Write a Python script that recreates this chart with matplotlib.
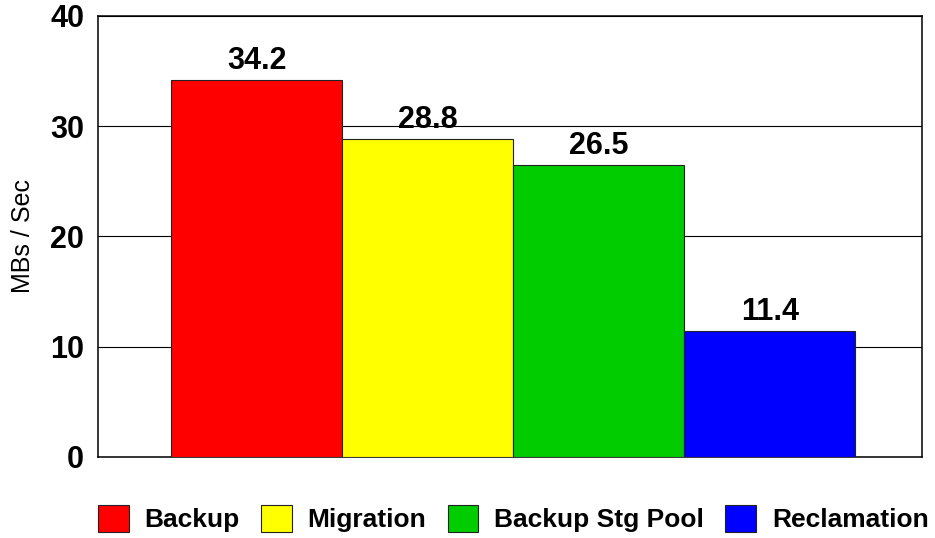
import matplotlib
matplotlib.use("Agg")
import matplotlib.pyplot as plt
import numpy as np

plt.rcParams['font.family'] = ['Liberation Sans', 'DejaVu Sans']

categories = ["Backup", "Migration", "Backup Stg Pool", "Reclamation"]
values = [34.2, 28.8, 26.5, 11.4]
colors = ["#ff0000", "#ffff00", "#00cc00", "#0000ff"]
yticks = [0, 10, 20, 30, 40]

fig = plt.figure(figsize=(9.35, 5.38), dpi=100)
ax = fig.add_axes([0.1048, 0.1506, 0.8813, 0.8197])

x = np.arange(len(values))
bars = ax.bar(x, values, width=1.0, color=colors, edgecolor="#222222",
              linewidth=0.8, label=categories, zorder=3)
for b, v in zip(bars, values):
    ax.annotate(f"{v:.1f}", (b.get_x() + b.get_width() / 2, v),
                xytext=(0, 3), textcoords="offset points",
                ha="center", va="bottom", fontsize=22, fontweight="bold")

ax.set_xlim(-0.93, 3.89)
ax.set_ylim(0, 40)
ax.set_yticks(yticks)
ax.set_yticklabels([str(t) for t in yticks], fontsize=22, fontweight="bold")
ax.set_xticks([])
ax.tick_params(axis="y", length=0, pad=10)
ax.yaxis.grid(True, color="black", linewidth=0.8, zorder=0)
for s in ax.spines.values():
    s.set_color("black")
    s.set_linewidth(1.1)
ax.set_ylabel("MBs / Sec", fontsize=18, labelpad=11)

fig.legend(handles=bars, labels=categories, loc="center", ncol=4,
           bbox_to_anchor=(0.549, 0.036), frameon=False,
           prop={"weight": "bold", "size": 19},
           handlelength=1.17, handleheight=1.17, handletextpad=0.6,
           columnspacing=0.8)

fig.savefig("out.png", dpi=100)
